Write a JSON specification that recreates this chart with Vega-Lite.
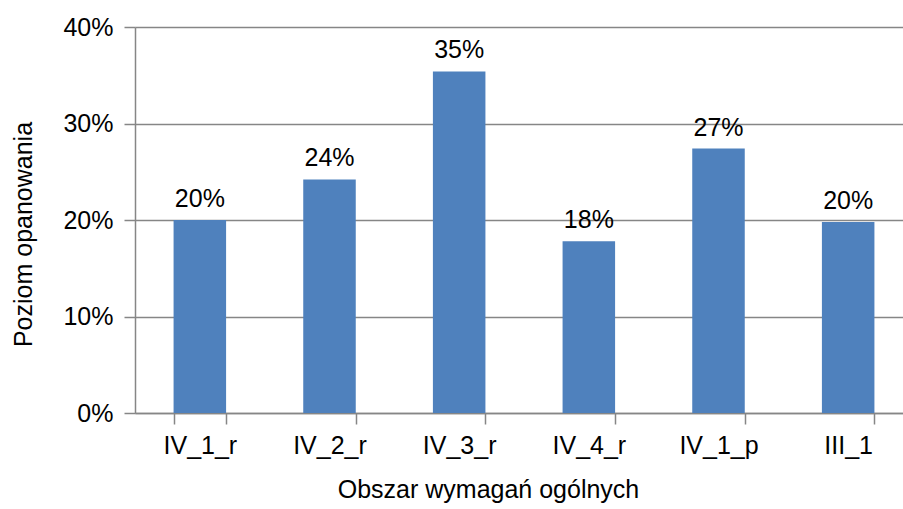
{
  "$schema": "https://vega.github.io/schema/vega-lite/v6.json",
  "width": 768,
  "height": 386,
  "autosize": "none",
  "padding": {"left": 135, "top": 27, "right": 0, "bottom": 96},
  "config": {
    "view": {"stroke": null},
    "font": "Liberation Sans",
    "axis": {
      "labelFont": "Liberation Sans",
      "titleFont": "Liberation Sans",
      "labelFontSize": 25,
      "titleFontSize": 25,
      "titleFontWeight": "normal",
      "labelColor": "#000000",
      "titleColor": "#000000",
      "domainColor": "#868686",
      "tickColor": "#868686",
      "gridColor": "#868686",
      "domainWidth": 1.5,
      "tickWidth": 1.5,
      "gridWidth": 1.5
    }
  },
  "data": {
    "values": [
      {"obszar": "IV_1_r", "poziom": 0.200},
      {"obszar": "IV_2_r", "poziom": 0.242},
      {"obszar": "IV_3_r", "poziom": 0.354},
      {"obszar": "IV_4_r", "poziom": 0.178},
      {"obszar": "IV_1_p", "poziom": 0.274},
      {"obszar": "III_1", "poziom": 0.198}
    ]
  },
  "encoding": {
    "x": {
      "field": "obszar",
      "type": "nominal",
      "sort": null,
      "scale": {"range": [0, 778], "paddingInner": 0.595, "paddingOuter": 0.2975},
      "axis": {
        "title": "Obszar wymagań ogólnych",
        "labelAngle": 0,
        "tickBand": "extent",
        "tickSize": 11,
        "labelPadding": 9,
        "titlePadding": 19,
        "titleX": 353,
        "titleAnchor": null
      }
    },
    "y": {
      "field": "poziom",
      "type": "quantitative",
      "scale": {"domain": [0, 0.4]},
      "axis": {
        "title": "Poziom opanowania",
        "values": [0, 0.1, 0.2, 0.3, 0.4],
        "format": ".0%",
        "grid": true,
        "tickSize": 11,
        "labelPadding": 11,
        "titlePadding": 26,
        "titleY": 207
      }
    }
  },
  "layer": [
    {"mark": {"type": "bar", "color": "#4F81BD"}},
    {
      "mark": {"type": "text", "fontSize": 25, "font": "Liberation Sans", "color": "#000000", "baseline": "alphabetic", "dy": -13},
      "encoding": {"text": {"field": "poziom", "type": "quantitative", "format": ".0%"}}
    }
  ]
}
